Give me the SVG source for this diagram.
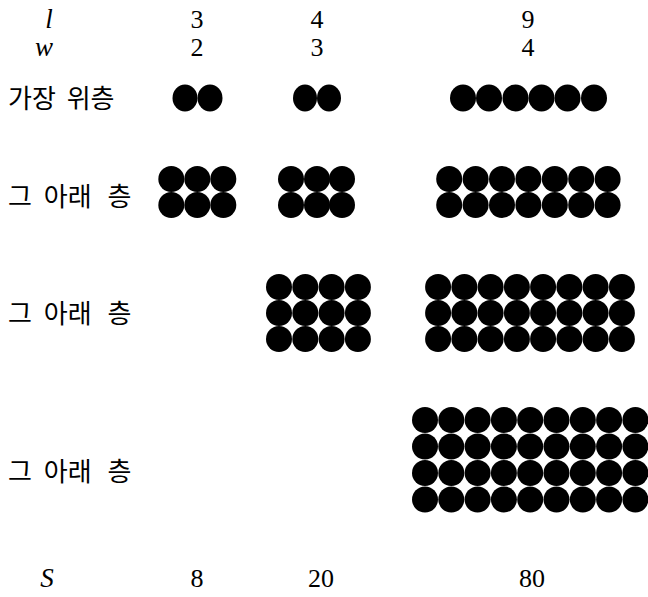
<svg xmlns="http://www.w3.org/2000/svg" width="648" height="597" viewBox="0 0 648 597">
<style>
.num{font-family:"Liberation Serif","DejaVu Serif",serif;font-size:26px;fill:#000;text-anchor:middle}
.var{font-family:"Liberation Serif","DejaVu Serif",serif;font-size:27px;font-style:italic;fill:#000;text-anchor:middle}
.kr{font-family:"Noto Sans CJK KR","Noto Sans",sans-serif;font-size:26px;fill:#000}
circle,ellipse{fill:#000}
</style>
<rect width="648" height="597" fill="#fff"/>
<g id="header">
<text class="var" x="49" y="28">l</text>
<text class="num" x="197" y="28">3</text>
<text class="num" x="317" y="28">4</text>
<text class="num" x="528" y="28">9</text>
<text class="var" x="44" y="56">w</text>
<text class="num" x="197" y="56">2</text>
<text class="num" x="317" y="56">3</text>
<text class="num" x="528" y="56">4</text>
</g>
<g id="labels">
<text class="kr" x="8" y="108">가장<tspan dx="5"> 위층</tspan></text>
<text class="kr" x="8" y="206">그<tspan dx="6"> 아래</tspan><tspan dx="10"> 층</tspan></text>
<text class="kr" x="8" y="323">그<tspan dx="6"> 아래</tspan><tspan dx="10"> 층</tspan></text>
<text class="kr" x="8" y="481">그<tspan dx="6"> 아래</tspan><tspan dx="10"> 층</tspan></text>
</g>
<g id="row1">
<ellipse cx="185" cy="98" rx="12.5" ry="13.5"/><ellipse cx="210" cy="98" rx="12.5" ry="13.5"/>
<ellipse cx="305" cy="98" rx="12" ry="13.5"/><ellipse cx="329" cy="98" rx="12" ry="13.5"/>
<ellipse cx="463" cy="98" rx="13" ry="13.5"/><ellipse cx="489" cy="98" rx="13" ry="13.5"/><ellipse cx="515.5" cy="98" rx="13" ry="13.5"/><ellipse cx="541.5" cy="98" rx="13" ry="13.5"/><ellipse cx="567.5" cy="98" rx="13" ry="13.5"/><ellipse cx="594" cy="98" rx="13" ry="13.5"/>
</g>
<g id="row2">
<circle cx="171.3" cy="179" r="13"/><circle cx="197.3" cy="179" r="13"/><circle cx="223.3" cy="179" r="13"/>
<circle cx="171.3" cy="205" r="13"/><circle cx="197.3" cy="205" r="13"/><circle cx="223.3" cy="205" r="13"/>
<circle cx="291" cy="179" r="13"/><circle cx="317" cy="179" r="13"/><circle cx="342" cy="179" r="13"/>
<circle cx="291" cy="205" r="13"/><circle cx="317" cy="205" r="13"/><circle cx="342" cy="205" r="13"/>
<circle cx="449.2" cy="179" r="13"/><circle cx="475.6" cy="179" r="13"/><circle cx="502" cy="179" r="13"/><circle cx="528.4" cy="179" r="13"/><circle cx="554.8" cy="179" r="13"/><circle cx="581.2" cy="179" r="13"/><circle cx="607.6" cy="179" r="13"/>
<circle cx="449.2" cy="205" r="13"/><circle cx="475.6" cy="205" r="13"/><circle cx="502" cy="205" r="13"/><circle cx="528.4" cy="205" r="13"/><circle cx="554.8" cy="205" r="13"/><circle cx="581.2" cy="205" r="13"/><circle cx="607.6" cy="205" r="13"/>
</g>
<g id="row3">
<circle cx="279" cy="287" r="13"/><circle cx="305.3" cy="287" r="13"/><circle cx="331.6" cy="287" r="13"/><circle cx="357.9" cy="287" r="13"/>
<circle cx="279" cy="313" r="13"/><circle cx="305.3" cy="313" r="13"/><circle cx="331.6" cy="313" r="13"/><circle cx="357.9" cy="313" r="13"/>
<circle cx="279" cy="339" r="13"/><circle cx="305.3" cy="339" r="13"/><circle cx="331.6" cy="339" r="13"/><circle cx="357.9" cy="339" r="13"/>
<circle cx="438.1" cy="287" r="13"/><circle cx="464.4" cy="287" r="13"/><circle cx="490.6" cy="287" r="13"/><circle cx="516.9" cy="287" r="13"/><circle cx="543.1" cy="287" r="13"/><circle cx="569.4" cy="287" r="13"/><circle cx="595.6" cy="287" r="13"/><circle cx="621.9" cy="287" r="13"/>
<circle cx="438.1" cy="313" r="13"/><circle cx="464.4" cy="313" r="13"/><circle cx="490.6" cy="313" r="13"/><circle cx="516.9" cy="313" r="13"/><circle cx="543.1" cy="313" r="13"/><circle cx="569.4" cy="313" r="13"/><circle cx="595.6" cy="313" r="13"/><circle cx="621.9" cy="313" r="13"/>
<circle cx="438.1" cy="339" r="13"/><circle cx="464.4" cy="339" r="13"/><circle cx="490.6" cy="339" r="13"/><circle cx="516.9" cy="339" r="13"/><circle cx="543.1" cy="339" r="13"/><circle cx="569.4" cy="339" r="13"/><circle cx="595.6" cy="339" r="13"/><circle cx="621.9" cy="339" r="13"/>
</g>
<g id="row4">
<circle cx="425" cy="420" r="13"/><circle cx="451.3" cy="420" r="13"/><circle cx="477.6" cy="420" r="13"/><circle cx="503.9" cy="420" r="13"/><circle cx="530.2" cy="420" r="13"/><circle cx="556.5" cy="420" r="13"/><circle cx="582.8" cy="420" r="13"/><circle cx="609.1" cy="420" r="13"/><circle cx="635.4" cy="420" r="13"/>
<circle cx="425" cy="446.5" r="13"/><circle cx="451.3" cy="446.5" r="13"/><circle cx="477.6" cy="446.5" r="13"/><circle cx="503.9" cy="446.5" r="13"/><circle cx="530.2" cy="446.5" r="13"/><circle cx="556.5" cy="446.5" r="13"/><circle cx="582.8" cy="446.5" r="13"/><circle cx="609.1" cy="446.5" r="13"/><circle cx="635.4" cy="446.5" r="13"/>
<circle cx="425" cy="473" r="13"/><circle cx="451.3" cy="473" r="13"/><circle cx="477.6" cy="473" r="13"/><circle cx="503.9" cy="473" r="13"/><circle cx="530.2" cy="473" r="13"/><circle cx="556.5" cy="473" r="13"/><circle cx="582.8" cy="473" r="13"/><circle cx="609.1" cy="473" r="13"/><circle cx="635.4" cy="473" r="13"/>
<circle cx="425" cy="499.5" r="13"/><circle cx="451.3" cy="499.5" r="13"/><circle cx="477.6" cy="499.5" r="13"/><circle cx="503.9" cy="499.5" r="13"/><circle cx="530.2" cy="499.5" r="13"/><circle cx="556.5" cy="499.5" r="13"/><circle cx="582.8" cy="499.5" r="13"/><circle cx="609.1" cy="499.5" r="13"/><circle cx="635.4" cy="499.5" r="13"/>
</g>
<g id="footer">
<text class="var" x="47" y="587">S</text>
<text class="num" x="197" y="587">8</text>
<text class="num" x="321" y="587">20</text>
<text class="num" x="532" y="587">80</text>
</g>
</svg>
